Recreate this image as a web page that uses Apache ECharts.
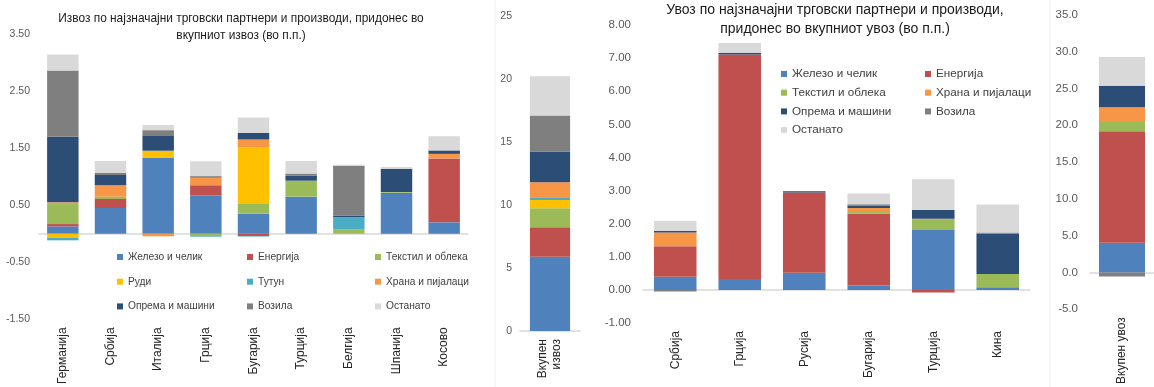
<!DOCTYPE html>
<html>
<head>
<meta charset="utf-8">
<script src="https://cdn.jsdelivr.net/npm/echarts@6/dist/echarts.min.js"></script>
<style>
  html, body { margin: 0; padding: 0; background: #fff; }
  #chart { width: 1154px; height: 387px; }
</style>
</head>
<body>
<div id="chart"></div>
<script>
// products (series), same order as the stacking in the workbook
const products = ['Железо и челик', 'Енергија', 'Текстил и облека', 'Руди', 'Тутун',
  'Храна и пијалаци', 'Опрема и машини', 'Возила', 'Останато'];
const colors = ['#4f81bd', '#c0504d', '#9bbb59', '#ffc000', '#4bacc6',
  '#f79646', '#2c4d75', '#7f7f7f', '#d9d9d9'];

// export by partner (p.p.)
const exportCountries = ['Германија', 'Србија', 'Италија', 'Грција', 'Бугарија', 'Турција', 'Белгија', 'Шпанија', 'Косово'];
const exportIron      = [0.13, 0.45, 1.33, 0.67, 0.35, 0.65, 0, 0.72, 0.20];
const exportEnergy    = [0.04, 0.16, 0, 0.18, -0.04, 0, 0, 0, 1.12];
const exportTextile   = [0.35, 0.04, 0.01, -0.045, 0.17, 0.28, 0.08, 0.01, 0];
const exportOres      = [-0.075, 0, 0.115, 0, 1.0, 0, 0, 0, 0];
const exportTobacco   = [-0.04, 0, 0, -0.01, -0.01, 0, 0.21, 0, 0];
const exportFood      = [0.03, 0.20, -0.045, 0.13, 0.13, 0, 0, 0, 0.08];
const exportMachinery = [1.15, 0.18, 0.27, 0, 0.115, 0.085, 0.03, 0.41, 0.06];
const exportVehicles  = [1.16, 0.035, 0.09, 0.03, 0, 0.04, 0.87, 0, 0];
const exportOther     = [0.28, 0.21, 0.09, 0.26, 0.27, 0.22, 0.02, 0.03, 0.25];

// total export, one value per product
const totalExportLabel = ['Вкупен\nизвоз'];
const totalExport = [5.9, 2.33, 1.51, 0.66, 0.21, 1.19, 2.44, 2.86, 3.12];

// import by partner (p.p.)
const importCountries = ['Србија', 'Грција', 'Русија', 'Бугарија', 'Турција', 'Кина'];
const importIron      = [0.40, 0.33, 0.52, 0.13, 1.81, 0.08];
const importEnergy    = [0.92, 6.78, 2.42, 2.17, -0.08, 0];
const importTextile   = [0, 0, 0, 0.05, 0.30, 0.40];
const importOres      = [0, 0, 0, 0, 0, 0];
const importTobacco   = [0, 0, 0, 0, 0, 0];
const importFood      = [0.41, 0, 0, 0.12, 0.04, 0];
const importMachinery = [0.05, 0.05, 0.04, 0.08, 0.26, 1.22];
const importVehicles  = [-0.05, 0, 0, 0.04, 0, 0.03];
const importOther     = [0.31, 0.30, 0, 0.32, 0.93, 0.85];

// total import, one value per product
const totalImportLabel = ['Вкупен увоз'];
const totalImport = [4.04, 15.14, 1.27, 0, 0, 2.02, 2.91, -0.54, 3.9];

const exportData = [exportIron, exportEnergy, exportTextile, exportOres, exportTobacco,
  exportFood, exportMachinery, exportVehicles, exportOther];
const importData = [importIron, importEnergy, importTextile, importOres, importTobacco,
  importFood, importMachinery, importVehicles, importOther];

const FONT = "'Liberation Sans', Arial, sans-serif";

var chart = echarts.init(document.getElementById('chart'));

// axis that draws the zero line (series live on it)
function lineAxis(grid, cats) {
  return {
    type: 'category', gridIndex: grid, data: cats, position: 'bottom',
    axisLine: { onZero: true, lineStyle: { color: '#d9d9d9', width: 1.5 } },
    axisTick: { show: false },
    axisLabel: { show: false }
  };
}
// axis at the bottom of the grid that only carries the rotated labels
function labelAxis(grid, cats, size) {
  return {
    type: 'category', gridIndex: grid, data: cats, position: 'bottom',
    axisLine: { show: false, onZero: false },
    axisTick: { show: false },
    axisLabel: { rotate: 90, margin: 8, interval: 0, color: '#262626', fontSize: size, fontFamily: FONT, lineHeight: 14 }
  };
}
function valueAxis(grid, min, max, interval, fmt, size, margin) {
  return {
    type: 'value', gridIndex: grid, min: min, max: max, interval: interval,
    splitLine: { show: false },
    axisLine: { show: false },
    axisTick: { show: false },
    axisLabel: { formatter: fmt, color: '#595959', fontSize: size, fontFamily: FONT, margin: margin }
  };
}

var series = [];
products.forEach(function (name, i) {
  var base = { name: name, type: 'bar', itemStyle: { color: colors[i] }, barCategoryGap: '34%' };
  series.push(Object.assign({}, base, { stack: 'exp', xAxisIndex: 0, yAxisIndex: 0, data: exportData[i] }));
  series.push(Object.assign({}, base, { stack: 'expT', xAxisIndex: 2, yAxisIndex: 1, data: [totalExport[i]], barCategoryGap: '33%' }));
  series.push(Object.assign({}, base, { stack: 'imp', xAxisIndex: 4, yAxisIndex: 2, data: importData[i] }));
  series.push(Object.assign({}, base, { stack: 'impT', xAxisIndex: 6, yAxisIndex: 3, data: [totalImport[i]], barCategoryGap: '28%' }));
});

function legendCol(names, left, top, size, gap) {
  return {
    orient: 'vertical', left: left, top: top, data: names, icon: 'rect',
    itemWidth: 6, itemHeight: 6, itemGap: gap, selectedMode: false, padding: 0,
    textStyle: { color: '#404040', fontSize: size, fontFamily: FONT, lineHeight: 14 }
  };
}

chart.setOption({
  animation: false,
  title: [
    {
      text: 'Извоз по најзначајни трговски партнери и производи, придонес во\nвкупниот извоз (во п.п.)',
      left: 241, top: 10, textAlign: 'center', padding: 0,
      textStyle: { color: '#1a1a1a', fontSize: 11.9, fontWeight: 'normal', fontFamily: FONT, lineHeight: 17 }
    },
    {
      text: 'Увоз по најзначајни трговски партнери и производи,\nпридонес во вкупниот увоз (во п.п.)',
      left: 835, top: 1, textAlign: 'center', padding: 0,
      textStyle: { color: '#1a1a1a', fontSize: 14, fontWeight: 'normal', fontFamily: FONT, lineHeight: 18.5 }
    }
  ],
  legend: [
    legendCol(['Железо и челик', 'Руди', 'Опрема и машини'], 117, 250, 10.2, 10.7),
    legendCol(['Енергија', 'Тутун', 'Возила'], 247, 250, 10.2, 10.7),
    legendCol(['Текстил и облека', 'Храна и пијалаци', 'Останато'], 375, 250, 10.2, 10.7),
    legendCol(['Железо и челик', 'Текстил и облека', 'Опрема и машини', 'Останато'], 781, 67, 11.7, 4.7),
    legendCol(['Енергија', 'Храна и пијалаци', 'Возила'], 925, 67, 11.7, 4.7)
  ],
  grid: [
    { left: 39, top: 34, width: 429, height: 290 },
    { left: 520, top: 16, width: 60, height: 315 },
    { left: 643, top: 25, width: 387, height: 298 },
    { left: 1090, top: 15, width: 64, height: 297 }
  ],
  xAxis: [
    lineAxis(0, exportCountries), labelAxis(0, exportCountries, 12),
    lineAxis(1, totalExportLabel), labelAxis(1, totalExportLabel, 12),
    lineAxis(2, importCountries), labelAxis(2, importCountries, 12),
    lineAxis(3, totalImportLabel), labelAxis(3, totalImportLabel, 12)
  ],
  yAxis: [
    valueAxis(0, -1.5, 3.5, 0.5, function (v) {
      return Math.abs((v + 1.5) % 1) < 1e-6 ? v.toFixed(2) : '';
    }, 10.5, 9),
    valueAxis(1, 0, 25, 5, function (v) { return String(v); }, 10.5, 8),
    valueAxis(2, -1, 8, 1, function (v) { return v.toFixed(2); }, 11.5, 12),
    valueAxis(3, -5, 35, 5, function (v) { return v.toFixed(1); }, 11.5, 12)
  ],
  graphic: [
    { type: 'line', shape: { x1: 495, y1: 0, x2: 495, y2: 387 }, style: { stroke: '#f0f0f0', lineWidth: 1 }, silent: true },
    { type: 'line', shape: { x1: 1050, y1: 0, x2: 1050, y2: 387 }, style: { stroke: '#f0f0f0', lineWidth: 1 }, silent: true }
  ],
  series: series
});
</script>
</body>
</html>
